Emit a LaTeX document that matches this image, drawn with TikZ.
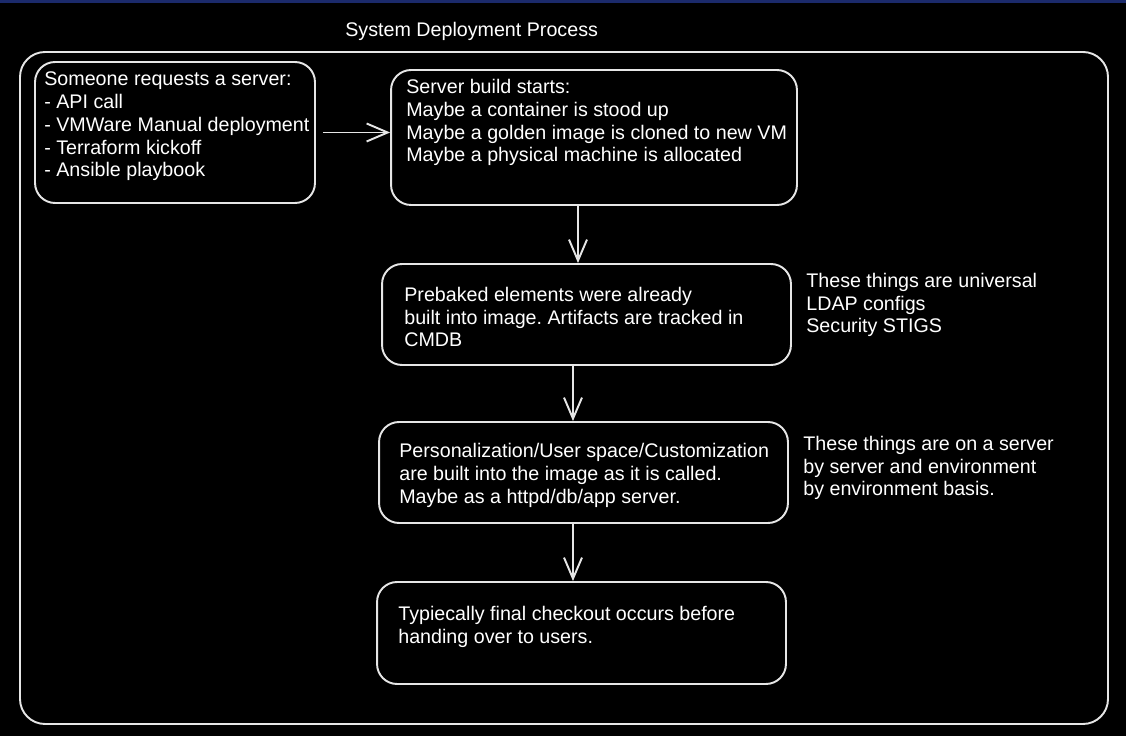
\documentclass[tikz,border=0pt]{standalone}
\usepackage{fontspec}
\setmainfont{Liberation Sans}
\usetikzlibrary{arrows.meta}
\frenchspacing
\definecolor{chalk}{HTML}{E6E6E6}
\definecolor{topbar}{HTML}{1B2A6B}
\tikzset{
  stage/.style={draw=chalk, line width=1.1pt, rounded corners=0.4cm, rectangle},
  words/.style={text=white, align=left, anchor=base west, inner sep=0pt, font=\fontsize{11.2}{13}\selectfont},
  flow/.style={draw=chalk, line width=1.1pt, -{Straight Barb[length=0.42cm,width=0.36cm,line width=1.1pt]}},
}
\begin{document}
\begin{tikzpicture}[x=0.02cm, y=-0.02cm]
\useasboundingbox (0,0) rectangle (1126,736);
\fill[black] (0,0) rectangle (1126,736);
\fill[topbar] (0,0) rectangle (1126,3);

\node[words] (title) at (345,37) {System Deployment Process};
\draw[stage, rounded corners=0.5cm] (20,52) rectangle (1108,724);

% process boxes
\node[stage, minimum width=5.6cm, minimum height=2.82cm] (request) at (175,132.5) {};
\node[stage, minimum width=8.12cm, minimum height=2.7cm] (build) at (594,137.5) {};
\node[stage, minimum width=8.18cm, minimum height=2.02cm] (prebake) at (586.5,314.5) {};
\node[stage, minimum width=8.18cm, minimum height=2.02cm] (custom) at (583.5,472.5) {};
\node[stage, minimum width=8.18cm, minimum height=2.04cm] (checkout) at (581.5,633) {};

% texts (placed by the baseline of their last line)
\node[words] (requestText) at (44,177) {Someone requests a server:\\- API call\\- VMWare Manual deployment\\- Terraform kickoff\\- Ansible playbook};
\node[words] (buildText) at (406,162) {Server build starts:\\Maybe a container is stood up\\Maybe a golden image is cloned to new VM\\Maybe a physical machine is allocated};
\node[words] (prebakeText) at (404,347) {Prebaked elements were already\\built into image. Artifacts are tracked in\\CMDB};
\node[words] (prebakeNote) at (806,333) {These things are universal\\LDAP configs\\Security STIGS};
\node[words] (customText) at (399,503) {Personalization/User space/Customization\\are built into the image as it is called.\\Maybe as a httpd/db/app server.};
\node[words] (customNote) at (803,496) {These things are on a server\\by server and environment\\by environment basis.};
\node[words] (checkoutText) at (398,643) {Typiecally final checkout occurs before\\handing over to users.};

% arrows
\coordinate (lineB) at (578,0);
\coordinate (lineC) at (573,0);
\draw[flow, shorten <=0.14cm] (request.east) -- (request.east -| build.west);
\draw[flow] (build.south -| lineB) -- (prebake.north -| lineB);
\draw[flow] (prebake.south -| lineC) -- (custom.north -| lineC);
\draw[flow] (custom.south -| lineC) -- (checkout.north -| lineC);
\end{tikzpicture}
\end{document}
